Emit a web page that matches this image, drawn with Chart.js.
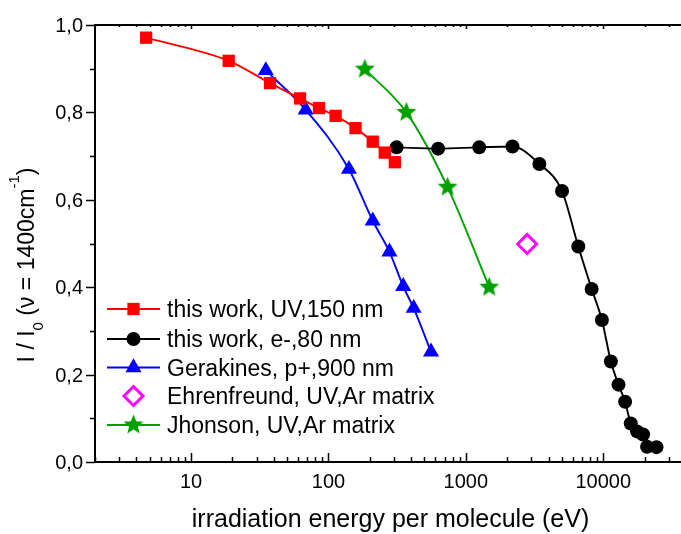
<!DOCTYPE html>
<html>
<head>
<meta charset="utf-8">
<script src="https://cdn.jsdelivr.net/npm/chart.js@4.4.1/dist/chart.umd.min.js"></script>
<style>
  html, body { margin: 0; padding: 0; background: #fff; overflow: hidden; }
  #wrap { width: 700px; height: 534px; }
</style>
</head>
<body>
<div id="wrap"><canvas id="chart" width="700" height="534"></canvas></div>
<script>
'use strict';

// ─── Data ─────────────────────────────────────────────────────────────────────
const uvEnergy  = [4.71, 18.8, 37.6, 62.1, 85.3, 112.8, 157.4, 210, 257, 304];
const uvRatio   = [0.971, 0.918, 0.867, 0.832, 0.810, 0.792, 0.764, 0.733, 0.708, 0.686];

const elEnergy  = [313, 628, 1251, 2183, 3427, 5010, 6580, 8230, 9775, 11360, 12910, 14420, 15850, 17620, 19490, 20840, 24380];
const elRatio   = [0.720, 0.717, 0.720, 0.722, 0.682, 0.620, 0.493, 0.396, 0.325, 0.230, 0.177, 0.138, 0.088, 0.070, 0.063, 0.035, 0.034];

const gerEnergy = [35.0, 68.3, 141, 210, 278, 350, 417, 558];
const gerRatio  = [0.896, 0.806, 0.670, 0.552, 0.481, 0.402, 0.352, 0.252];

const ehrEnergy = [2790];
const ehrRatio  = [0.499];

const jhoEnergy = [184, 369, 736, 1479];
const jhoRatio  = [0.899, 0.800, 0.629, 0.400];

const seriesLabels = [
  'this work, UV,150 nm',
  'this work, e-,80 nm',
  'Gerakines, p+,900 nm',
  'Ehrenfreund, UV,Ar matrix',
  'Jhonson, UV,Ar matrix',
];

const xMajorTicks = [10, 100, 1000, 10000];
const xTickLabels = ['10', '100', '1000', '10000'];
const yTicks      = [0, 0.2, 0.4, 0.6, 0.8, 1.0];
const yTickLabels = ['0,0', '0,2', '0,4', '0,6', '0,8', '1,0'];

// ─── Helpers ──────────────────────────────────────────────────────────────────
const FONT  = '"Liberation Sans", Arial, sans-serif';
const GREEN = '#00a000';

function pts(xs, ys) {
  return xs.map((x, i) => ({ x, y: ys[i] }));
}

// filled five-point star used as a point style
function makeStar(r, color) {
  const s = Math.ceil(r * 2 + 2);
  const c = document.createElement('canvas');
  c.width = c.height = s;
  const g = c.getContext('2d');
  g.fillStyle = color;
  g.beginPath();
  for (let i = 0; i < 10; i++) {
    const rad = i % 2 ? r * 0.44 : r;
    const a = -Math.PI / 2 + i * Math.PI / 5;
    g.lineTo(s / 2 + rad * Math.cos(a), s / 2 + rad * Math.sin(a));
  }
  g.closePath();
  g.fill();
  return c;
}

const starImg = makeStar(10.5, GREEN);

function lineSet(label, data, color, style, radius) {
  return {
    label,
    data,
    borderColor:          color,
    backgroundColor:      color,
    borderWidth:          1.9,
    pointStyle:           style,
    pointRadius:          radius,
    pointBorderWidth:     0,
    pointBackgroundColor: color,
    cubicInterpolationMode: 'monotone',
    showLine:             true,
  };
}

// ─── Axis frame, ticks, labels and legend ────────────────────────────────────
const decorPlugin = {
  id: 'decor',
  afterDraw(chart) {
    const { ctx, chartArea: a, scales } = chart;
    const xs = scales.x, ys = scales.y;
    ctx.save();
    ctx.strokeStyle = '#000';
    ctx.fillStyle = '#000';

    // frame
    ctx.lineWidth = 2;
    ctx.strokeRect(a.left, a.top, a.right - a.left, a.bottom - a.top);

    // x ticks: inward on bottom and top
    ctx.lineWidth = 1.5;
    ctx.beginPath();
    for (let e = 0; e <= 4; e++) {
      for (let m = 1; m <= 9; m++) {
        const v = m * Math.pow(10, e);
        if (v < xs.min || v > xs.max) continue;
        const px = Math.round(xs.getPixelForValue(v)) + 0.5;
        const major = m === 1;
        ctx.moveTo(px, a.bottom);
        ctx.lineTo(px, a.bottom - (major ? 9 : 5));
        ctx.moveTo(px, a.top);
        ctx.lineTo(px, a.top + (major ? 4 : 2));
      }
    }
    // y ticks: outward on the left
    for (let i = 0; i <= 10; i++) {
      const py = Math.round(ys.getPixelForValue(i / 10)) + 0.5;
      ctx.moveTo(a.left, py);
      ctx.lineTo(a.left - (i % 2 === 0 ? 9 : 5), py);
    }
    ctx.stroke();

    // tick labels
    ctx.font = '20px ' + FONT;
    ctx.textBaseline = 'alphabetic';
    ctx.textAlign = 'center';
    xMajorTicks.forEach((v, i) => {
      ctx.fillText(xTickLabels[i], xs.getPixelForValue(v), a.bottom + 26);
    });
    ctx.textAlign = 'right';
    yTicks.forEach((v, i) => {
      ctx.fillText(yTickLabels[i], a.left - 12, ys.getPixelForValue(v) + 7);
    });

    // x title
    ctx.font = '25px ' + FONT;
    ctx.textAlign = 'center';
    ctx.fillText('irradiation energy per molecule (eV)', (a.left + a.right) / 2, 527);

    // y title, rotated, with sub/superscripts
    const parts = [
      ['I / I', 1, 0],
      ['0', 0.65, 0.4],
      [' (\u03bd = 1400cm', 1, 0],
      ['-1', 0.65, -0.65],
      [')', 1, 0],
    ];
    const size = 23;
    let total = 0;
    parts.forEach(([t, k]) => {
      ctx.font = (size * k) + 'px ' + FONT;
      total += ctx.measureText(t).width;
    });
    ctx.save();
    ctx.translate(34, 265);
    ctx.rotate(-Math.PI / 2);
    ctx.textAlign = 'left';
    let cx = -total / 2;
    parts.forEach(([t, k, dy]) => {
      ctx.font = (size * k) + 'px ' + FONT;
      ctx.fillText(t, cx, dy * size);
      cx += ctx.measureText(t).width;
    });
    ctx.restore();

    // legend
    const rowsY = [309, 339, 367.5, 396, 425];
    chart.data.datasets.forEach((ds, i) => {
      const y = rowsY[i];
      if (ds.showLine !== false) {
        ctx.strokeStyle = ds.borderColor;
        ctx.lineWidth = 1.9;
        ctx.beginPath();
        ctx.moveTo(107, y);
        ctx.lineTo(160, y);
        ctx.stroke();
      }
      ctx.fillStyle = ds.pointBackgroundColor;
      ctx.strokeStyle = ds.pointBorderColor || ds.borderColor;
      ctx.lineWidth = ds.pointBorderWidth;
      Chart.helpers.drawPoint(ctx, {
        pointStyle:  ds.pointStyle,
        radius:      ds.pointRadius,
        rotation:    0,
        borderWidth: ds.pointBorderWidth,
      }, 133.5, y);
      ctx.fillStyle = '#000';
      ctx.font = '23px ' + FONT;
      ctx.textAlign = 'left';
      ctx.fillText(ds.label, 167, y + 8);
    });

    ctx.restore();
  },
};

// ─── Chart ────────────────────────────────────────────────────────────────────
const ehrSet = {
  label:                seriesLabels[3],
  data:                 pts(ehrEnergy, ehrRatio),
  showLine:             false,
  borderColor:          '#ff00ff',
  pointStyle:           'rectRot',
  pointRadius:          9.5,
  pointBorderWidth:     3,
  pointBorderColor:     '#ff00ff',
  pointBackgroundColor: '#ffffff',
};

new Chart(document.getElementById('chart'), {
  type: 'scatter',
  data: {
    datasets: [
      lineSet(seriesLabels[0], pts(uvEnergy, uvRatio),   '#ff0000', 'rect',     8.7),
      lineSet(seriesLabels[1], pts(elEnergy, elRatio),   '#000000', 'circle',   7),
      lineSet(seriesLabels[2], pts(gerEnergy, gerRatio), '#0000ff', 'triangle', 9.3),
      ehrSet,
      lineSet(seriesLabels[4], pts(jhoEnergy, jhoRatio), GREEN,     starImg,    10.5),
    ],
  },
  options: {
    responsive: false,
    animation:  false,
    layout: { padding: { left: 95, top: 25, right: 14, bottom: 72 } },
    plugins: {
      legend:  { display: false },
      tooltip: { enabled: false },
    },
    scales: {
      x: {
        type:   'logarithmic',
        min:    2,
        max:    40000,
        bounds: 'data',
        grid:   { display: false },
        border: { display: false },
        ticks:  { display: false },
        afterFit: (s) => { s.height = 0; },
      },
      y: {
        min:    0,
        max:    1,
        grid:   { display: false },
        border: { display: false },
        ticks:  { display: false },
        afterFit: (s) => { s.width = 0; },
      },
    },
  },
  plugins: [decorPlugin],
});
</script>
</body>
</html>
